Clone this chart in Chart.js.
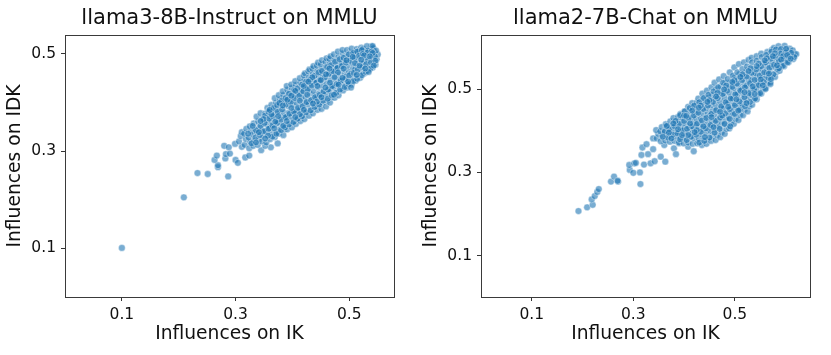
<!DOCTYPE html>
<html>
<head>
<meta charset="utf-8">
<script src="https://cdn.jsdelivr.net/npm/chart.js@4"></script>
<style>
  html, body { margin: 0; padding: 0; background: #fff; }
  #wrap { position: relative; width: 831px; height: 355px; overflow: hidden; }
  .panel { position: absolute; top: 0; width: 400px; height: 355px; }
</style>
</head>
<body>
<div id="wrap">
  <div class="panel" style="left:0"><canvas id="left_chart"></canvas></div>
  <div class="panel" style="left:416px"><canvas id="right_chart"></canvas></div>
</div>
<script>
// Values, one line per column of the cloud
var left_ik = [
  .100, .209, .233, .251, .287, .269, .269, .263, .267, .282, .283, .280, .288, .290, .300, .304, .317, .324, .345, .362, .374, .352, .299, .311,
  .306, .309, .311,
  .316, .318, .315, .319,
  .324, .326, .323, .327, .325,
  .331, .333, .330, .334, .332,
  .339, .341, .338, .342, .340, .337,
  .346, .348, .345, .349, .347, .344,
  .354, .356, .353, .357, .355, .352, .356,
  .361, .363, .360, .364, .362, .359, .363,
  .369, .371, .368, .372, .370, .367, .371, .369,
  .376, .378, .375, .379, .377, .374, .378, .376,
  .384, .386, .383, .387, .385, .382, .386, .384, .383,
  .391, .393, .390, .394, .392, .389, .393, .391, .390,
  .399, .401, .398, .402, .400, .397, .401, .399, .398,
  .406, .408, .405, .409, .407, .404, .408, .406, .405,
  .414, .416, .413, .417, .415, .412, .416, .414, .413,
  .421, .423, .420, .424, .422, .419, .423, .421, .420, .422,
  .429, .431, .428, .432, .430, .427, .431, .429, .428, .430,
  .436, .438, .435, .439, .437, .434, .438, .436, .435, .437,
  .444, .446, .443, .447, .445, .442, .446, .444, .443, .445,
  .451, .453, .450, .454, .452, .449, .453, .451, .450, .452,
  .459, .461, .458, .462, .460, .457, .461, .459, .458, .460,
  .466, .468, .465, .469, .467, .464, .468, .466, .465, .467,
  .474, .476, .473, .477, .475, .472, .476, .474, .473,
  .481, .483, .480, .484, .482, .479, .483, .481, .480,
  .489, .491, .488, .492, .490, .487, .491, .489, .488,
  .496, .498, .495, .499, .497, .494, .498, .496,
  .504, .506, .503, .507, .505, .502, .506, .504,
  .511, .513, .510, .514, .512, .509, .513,
  .519, .521, .518, .522, .520, .517, .521,
  .526, .528, .525, .529, .527, .524,
  .534, .536, .533, .537, .535, .539,
  .541, .543, .540, .544, .542, .531, .541,
  .548, .550, .547, .546
];
var left_idk = [
  .101, .205, .255, .253, .248, .267, .271, .282, .291, .285, .294, .311, .308, .295, .282, .276, .287, .291, .302, .308, .316, .311, .315, .309,
  .320, .331, .339,
  .313, .325, .336, .346,
  .306, .319, .328, .341, .351,
  .311, .322, .335, .345, .357,
  .313, .324, .338, .349, .361, .371,
  .320, .332, .342, .356, .366, .378,
  .318, .331, .341, .354, .364, .377, .389,
  .325, .337, .347, .361, .371, .384, .395,
  .329, .339, .353, .363, .376, .386, .399, .409,
  .336, .345, .359, .369, .382, .392, .406, .415,
  .333, .345, .355, .369, .379, .392, .402, .415, .423,
  .345, .356, .370, .379, .393, .403, .416, .426, .434,
  .349, .361, .371, .384, .396, .406, .418, .430, .437,
  .356, .366, .378, .390, .400, .413, .423, .436, .444,
  .362, .373, .385, .395, .408, .418, .431, .441, .450,
  .366, .378, .388, .401, .412, .424, .434, .447, .456, .460,
  .373, .384, .396, .406, .419, .429, .442, .452, .464, .468,
  .378, .391, .401, .414, .424, .437, .447, .459, .470, .475,
  .385, .396, .409, .419, .432, .442, .455, .465, .476, .482,
  .387, .400, .412, .422, .435, .445, .458, .468, .479, .487,
  .392, .404, .416, .427, .439, .451, .461, .473, .484, .491,
  .400, .411, .424, .434, .446, .458, .468, .480, .490, .495,
  .410, .420, .432, .443, .454, .465, .476, .487, .499,
  .415, .426, .439, .449, .461, .472, .483, .494, .505,
  .425, .437, .447, .459, .469, .480, .491, .501, .508,
  .431, .441, .454, .465, .476, .486, .497, .508,
  .437, .449, .460, .471, .482, .492, .503, .511,
  .445, .457, .468, .478, .489, .500, .510,
  .451, .463, .473, .485, .495, .506, .513,
  .460, .471, .481, .492, .503, .511,
  .467, .478, .488, .499, .509, .516,
  .472, .484, .494, .505, .512, .516, .516,
  .489, .499, .507, .478
];
// More passes along the cloud, these sit between the columns above
var left_ik_fill = [
  .352, .358, .367, .373, .381, .388, .394, .403, .409, .417, .424, .431, .439, .446, .452, .461, .468, .475, .483, .490, .499, .507, .514, .522, .533,
  .322, .336, .344, .351, .359, .366, .374, .382, .389, .397, .404, .412, .419, .427, .434, .442, .449, .457, .464, .472, .479, .487, .494, .502, .509, .517, .524, .532, .539,
  .328, .335, .343, .350, .358, .365, .373, .380, .388, .395, .403, .410, .418, .425, .433, .440, .448, .455, .463, .470, .478, .485, .493, .500, .508, .515, .523, .530, .538, .545,
  .365, .372, .380, .387, .394, .402, .409, .417, .424, .432, .439, .447, .454, .462, .469, .477, .484, .492, .499, .507, .514, .522, .529, .537,
  .330, .341, .349, .357, .363, .370, .377, .384, .391, .398, .405, .413, .420, .426, .435, .443, .450, .458, .465, .473, .480, .488, .495, .503, .510, .518, .526, .534, .541, .546,
  .336, .344, .352, .360, .368, .375, .383, .390, .398, .405, .413, .420, .428, .436, .444, .451, .459, .466, .474, .481, .490, .498, .506, .513, .521, .528, .536, .543
];
var left_idk_fill = [
  .373, .381, .389, .395, .404, .409, .418, .426, .429, .437, .443, .447, .455, .462, .465, .473, .477, .484, .489, .492, .499, .502, .505, .508, .507,
  .336, .343, .352, .358, .367, .372, .381, .386, .396, .401, .409, .414, .423, .427, .435, .441, .447, .452, .459, .464, .471, .475, .482, .486, .492, .496, .500, .503, .505,
  .316, .328, .333, .341, .346, .353, .358, .365, .370, .377, .381, .389, .393, .401, .405, .411, .416, .423, .427, .434, .438, .445, .449, .456, .461, .468, .473, .479, .483, .495,
  .330, .336, .343, .349, .355, .360, .367, .372, .380, .384, .391, .396, .404, .408, .415, .420, .427, .432, .438, .444, .449, .456, .463, .470,
  .352, .339, .366, .332, .376, .361, .399, .352, .406, .389, .424, .376, .434, .416, .452, .402, .446, .431, .470, .416, .462, .451, .487, .431, .481, .476, .497, .463, .502, .486,
  .318, .362, .326, .385, .347, .372, .394, .362, .414, .370, .404, .385, .443, .398, .434, .411, .458, .441, .452, .437, .470, .443, .494, .457, .488, .470, .495, .476
];

var right_ik = [
  .192, .209, .220, .218, .224, .229, .232, .256, .262, .270, .269, .314, .293, .292, .302, .305, .300, .313, .321, .334, .342, .354, .363, .316, .329, .318, .326, .339, .339, .361, .380, .384, .390, .408, .419,
  .346, .349, .345,
  .354, .357, .353, .356,
  .363, .366, .362, .365, .364,
  .372, .375, .371, .374, .373,
  .381, .384, .380, .383, .382, .379,
  .390, .393, .389, .392, .391, .388, .393,
  .399, .402, .398, .401, .400, .397, .402,
  .408, .411, .407, .410, .409, .406, .411, .408,
  .417, .420, .416, .419, .418, .415, .420, .417, .416,
  .426, .429, .425, .428, .427, .424, .429, .426, .425, .428,
  .435, .438, .434, .437, .436, .433, .438, .435, .434, .437, .436,
  .444, .447, .443, .446, .445, .442, .447, .444, .443, .446, .445,
  .453, .456, .452, .455, .454, .451, .456, .453, .452, .455, .454,
  .462, .465, .461, .464, .463, .460, .465, .462, .461, .464, .463, .460,
  .471, .474, .470, .473, .472, .469, .474, .471, .470, .473, .472, .469,
  .480, .483, .479, .482, .481, .478, .483, .480, .479, .482, .481, .478,
  .489, .492, .488, .491, .490, .487, .492, .489, .488, .491, .490,
  .498, .501, .497, .500, .499, .496, .501, .498, .497, .500, .499,
  .507, .510, .506, .509, .508, .505, .510, .507, .506, .509, .508,
  .516, .519, .515, .518, .517, .514, .519, .516, .515, .518,
  .525, .528, .524, .527, .526, .523, .528, .525, .524, .527,
  .534, .537, .533, .536, .535, .532, .537, .534, .533,
  .543, .546, .542, .545, .544, .541, .546, .543,
  .552, .555, .551, .554, .553, .550, .555, .552,
  .561, .564, .560, .563, .562, .559, .564,
  .570, .573, .569, .572, .571, .568, .573,
  .579, .582, .578, .581, .580, .577,
  .588, .591, .587, .590, .589, .586,
  .597, .600, .596, .599, .598,
  .606, .609, .605, .608, .607,
  .615, .618, .614, .621, .617
];
var right_idk = [
  .207, .216, .222, .235, .243, .253, .260, .278, .290, .278, .280, .272, .306, .318, .322, .323, .299, .300, .319, .322, .327, .338, .326, .342, .344, .360, .368, .382, .356, .366, .358, .344, .370, .362, .351,
  .382, .393, .402,
  .375, .388, .399, .409,
  .377, .389, .400, .411, .416,
  .374, .386, .397, .409, .423,
  .376, .388, .399, .412, .424, .431,
  .372, .384, .397, .408, .421, .433, .441,
  .370, .383, .394, .407, .419, .432, .447,
  .372, .385, .396, .409, .421, .434, .446, .458,
  .369, .382, .395, .406, .419, .432, .444, .457, .467,
  .370, .381, .394, .407, .419, .430, .443, .456, .468, .478,
  .366, .379, .392, .404, .416, .429, .441, .453, .466, .478, .490,
  .369, .381, .394, .406, .418, .431, .443, .455, .468, .480, .497,
  .376, .388, .400, .413, .425, .437, .450, .462, .474, .487, .505,
  .378, .390, .403, .415, .427, .440, .452, .464, .477, .489, .501, .516,
  .385, .397, .410, .422, .434, .447, .459, .471, .484, .496, .508, .524,
  .393, .405, .417, .430, .442, .454, .467, .479, .491, .504, .516, .532,
  .406, .418, .431, .443, .455, .468, .480, .492, .505, .517, .541,
  .417, .429, .441, .454, .466, .478, .491, .503, .515, .528, .553,
  .426, .438, .451, .463, .475, .488, .500, .512, .525, .537, .561,
  .438, .451, .463, .475, .488, .500, .512, .525, .537, .565,
  .447, .459, .472, .484, .496, .509, .521, .533, .546, .571,
  .463, .475, .487, .500, .512, .524, .537, .549, .576,
  .476, .488, .501, .513, .525, .538, .550, .580,
  .490, .502, .515, .527, .539, .552, .564, .586,
  .503, .515, .527, .540, .552, .564, .590,
  .517, .529, .541, .554, .566, .578, .595,
  .530, .542, .555, .567, .579, .600,
  .545, .557, .569, .581, .593, .604,
  .556, .568, .581, .593, .605,
  .566, .578, .590, .598, .585,
  .573, .584, .594, .585, .578
];
var right_ik_fill = [
  .392, .401, .411, .420, .430, .439, .448, .458, .467, .477, .486, .496, .505, .515, .524, .534, .543, .553, .562, .572, .581, .591,
  .362, .371, .381, .390, .400, .409, .419, .428, .438, .447, .457, .466, .476, .485, .495, .504, .514, .523, .533, .542, .552, .561, .571, .580, .590, .600, .611,
  .368, .378, .387, .397, .406, .416, .425, .435, .444, .454, .463, .473, .482, .492, .501, .511, .520, .530, .539, .549, .558, .568, .577, .587, .596, .606,
  .405, .414, .424, .433, .443, .452, .462, .471, .481, .490, .500, .509, .519, .528, .538, .547, .557, .566, .576, .585, .595, .604,
  .430, .440, .450, .460, .470, .480, .490, .500, .510, .520, .530, .540, .550, .560, .570,
  .358, .366, .375, .383, .392, .400, .408, .416, .425, .433, .441, .450, .458, .466, .475, .483, .491, .499, .507, .515, .523, .531, .539, .547, .555, .563, .571, .579, .587, .595, .603, .610,
  .370, .379, .388, .396, .404, .412, .421, .429, .438, .446, .454, .463, .471, .479, .487, .495, .503, .511, .519, .527, .535, .543, .551, .559, .567, .575, .583, .591, .601
];
var right_idk_fill = [
  .438, .447, .455, .461, .469, .479, .487, .495, .505, .516, .525, .533, .541, .549, .555, .565, .569, .578, .583, .591, .596, .597,
  .398, .404, .411, .417, .424, .431, .437, .444, .453, .461, .470, .479, .489, .497, .506, .514, .522, .531, .540, .548, .556, .565, .574, .579, .586, .589, .588,
  .384, .391, .394, .401, .405, .411, .417, .425, .431, .441, .450, .459, .469, .478, .488, .497, .505, .515, .523, .533, .541, .552, .559, .568, .574, .578,
  .378, .386, .391, .398, .406, .414, .424, .432, .442, .452, .462, .471, .481, .491, .500, .510, .518, .528, .536, .548, .557, .565,
  .372, .376, .384, .396, .405, .417, .429, .441, .451, .459, .470, .478, .491, .501, .513,
  .386, .412, .382, .424, .380, .437, .390, .449, .402, .461, .385, .474, .409, .492, .437, .509, .411, .522, .449, .536, .467, .551, .489, .562, .510, .575, .525, .587, .551, .580, .583, .574,
  .396, .418, .404, .390, .436, .418, .397, .456, .411, .470, .433, .483, .446, .500, .458, .518, .476, .530, .493, .544, .507, .556, .524, .570, .538, .580, .558, .572, .598
];

var tick_values = [0.1, 0.3, 0.5];

// Draw the box around the plot
var frame_plugin = {
  id: 'frame',
  afterDraw: function(chart) {
    var a = chart.chartArea;
    var ctx = chart.ctx;
    ctx.save();
    ctx.strokeStyle = '#3a3a3a';
    ctx.lineWidth = 1;
    ctx.strokeRect(a.left + 0.5, a.top + 0.5, a.right - a.left, a.bottom - a.top);
    ctx.restore();
  }
};

var make_axis = function(label, max, size) {
  return {
    type: 'linear',
    min: 0,
    max: max,
    afterBuildTicks: function(axis) {
      axis.ticks = tick_values.map(function(v) { return { value: v }; });
    },
    afterFit: function(axis) {
      if (axis.isHorizontal()) {
        axis.height = size;
      } else {
        axis.width = size;
      }
    },
    grid: { drawOnChartArea: false, color: '#333', tickLength: 4 },
    border: { display: false },
    ticks: {
      color: '#111',
      maxRotation: 0,
      autoSkip: false,
      padding: 5,
      font: { family: 'DejaVu Sans', size: 15.5 },
      callback: function(v) { return v.toFixed(1); }
    },
    title: {
      display: true,
      text: label,
      color: '#111',
      padding: { top: 0, bottom: 0 },
      font: { family: 'DejaVu Sans', size: 18.7 }
    }
  };
};

var draw_panel = function(id, title, ik, idk, xmax, ymax) {
  var points = ik.map(function(v, i) { return { x: v, y: idk[i] }; });
  new Chart(document.getElementById(id).getContext('2d'), {
    type: 'scatter',
    data: {
      datasets: [{
        data: points,
        pointRadius: 3.4,
        pointBackgroundColor: 'rgba(31,119,180,0.6)',
        pointBorderColor: 'rgba(255,255,255,0.5)',
        pointBorderWidth: 0.8
      }]
    },
    options: {
      responsive: true,
      maintainAspectRatio: false,
      animation: false,
      layout: { padding: { left: 4, right: 6, top: 0, bottom: 10 } },
      plugins: {
        legend: { display: false },
        tooltip: { enabled: false },
        title: {
          display: true,
          text: title,
          color: '#111',
          fullSize: false,
          padding: { top: 6, bottom: 3.8 },
          font: { family: 'DejaVu Sans', size: 21, weight: 'normal' }
        }
      },
      scales: {
        x: make_axis('Influences on IK', xmax, 48),
        y: make_axis('Influences on IDK', ymax, 61)
      }
    },
    plugins: [frame_plugin]
  });
};

draw_panel('left_chart', 'llama3-8B-Instruct on MMLU', left_ik.concat(left_ik_fill), left_idk.concat(left_idk_fill), 0.5786, 0.539);
draw_panel('right_chart', 'llama2-7B-Chat on MMLU', right_ik.concat(right_ik_fill), right_idk.concat(right_idk_fill), 0.648, 0.631);
</script>
</body>
</html>
